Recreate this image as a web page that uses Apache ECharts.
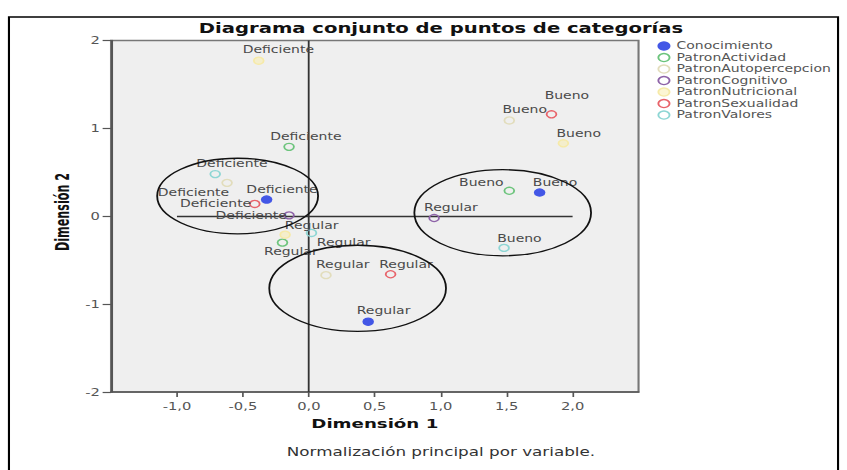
<!DOCTYPE html>
<html>
<head>
<meta charset="utf-8">
<script src="https://cdn.jsdelivr.net/npm/echarts@6/dist/echarts.min.js"></script>
<style>
  html, body { margin: 0; padding: 0; background: #fff; overflow: hidden; width: 847px; height: 470px; }
  /* the source picture is stretched sideways, so draw narrow and stretch */
  #main { width: 605px; height: 470px; transform: scaleX(1.4); transform-origin: 0 0; }
</style>
</head>
<body>
<div id="main"></div>
<script>
// 各变量的类别点 [Dimensión 1, Dimensión 2, categoría]
const conocimiento = [[-0.32, 0.19, 'Deficiente'], [0.45, -1.20, 'Regular'], [1.75, 0.27, 'Bueno']];
const patronActividad = [[-0.15, 0.79, 'Deficiente'], [-0.20, -0.30, 'Regular'], [1.52, 0.29, 'Bueno']];
const patronAutopercepcion = [[-0.62, 0.38, 'Deficiente'], [0.13, -0.67, 'Regular'], [1.52, 1.09, 'Bueno']];
const patronCognitivo = [[-0.15, 0.01, 'Deficiente'], [0.95, -0.02, 'Regular']];
const patronNutricional = [[-0.38, 1.77, 'Deficiente'], [-0.18, -0.21, 'Regular'], [1.93, 0.83, 'Bueno']];
const patronSexualidad = [[-0.41, 0.14, 'Deficiente'], [0.62, -0.66, 'Regular'], [1.84, 1.16, 'Bueno']];
const patronValores = [[-0.71, 0.48, 'Deficiente'], [0.02, -0.19, 'Regular'], [1.48, -0.36, 'Bueno']];

const xTicks = [-1, -0.5, 0, 0.5, 1, 1.5, 2];

// 标签偏移 (px)
const labelOffsets = {
  Conocimiento: [[11, -10], [11, -11], [11, -10]],
  PatronActividad: [[12, -10], [6, 9], [-20, -8]],
  PatronAutopercepcion: [[-24, 10], [12, -10], [11, -11]],
  PatronCognitivo: [[-27, 0], [12, -10]],
  PatronNutricional: [[14, -11], [19, -9], [11, -10]],
  PatronSexualidad: [[-28, 0], [11, -10], [11, -19]],
  PatronValores: [[12, -10], [23, 10], [11, -9]],
};

// 颜色
const styles = {
  Conocimiento: { fill: '#4357e6', stroke: '#4357e6' },
  PatronActividad: { fill: 'rgba(0,0,0,0)', stroke: '#6cc47c' },
  PatronAutopercepcion: { fill: 'rgba(0,0,0,0)', stroke: '#e2ddbc' },
  PatronCognitivo: { fill: 'rgba(0,0,0,0)', stroke: '#8e63a8' },
  PatronNutricional: { fill: 'rgba(250,238,170,0.5)', stroke: '#f6eaa8' },
  PatronSexualidad: { fill: 'rgba(0,0,0,0)', stroke: '#e8636a' },
  PatronValores: { fill: 'rgba(0,0,0,0)', stroke: '#8ed6d4' },
};

// 手绘的椭圆 [cx, cy, rx, ry]（数据坐标）
const circled = [[-0.54, 0.23, 0.61, 0.43], [1.47, 0.04, 0.67, 0.49], [0.37, -0.82, 0.67, 0.49]];

const source = [
  ['Conocimiento', conocimiento],
  ['PatronActividad', patronActividad],
  ['PatronAutopercepcion', patronAutopercepcion],
  ['PatronCognitivo', patronCognitivo],
  ['PatronNutricional', patronNutricional],
  ['PatronSexualidad', patronSexualidad],
  ['PatronValores', patronValores],
];

const FONT = 'DejaVu Sans';
const fmtComma = (v) => v.toFixed(1).replace('.', ',');

const series = source.map(([name, pts], i) => {
  const st = styles[name];
  const s = {
    type: 'scatter',
    name,
    symbol: 'circle',
    symbolSize: 7,
    z: 3,
    itemStyle: { color: st.fill, borderColor: st.stroke, borderWidth: 1.3, opacity: 1 },
    label: {
      show: true,
      position: 'inside',
      formatter: '{b}',
      color: '#4a4a4a',
      fontFamily: FONT,
      fontSize: 10,
    },
    emphasis: { disabled: true },
    data: pts.map((p, j) => ({
      name: p[2],
      value: [p[0], p[1]],
      label: { offset: labelOffsets[name][j] },
    })),
  };
  if (i === 0) {
    s.markLine = {
      silent: true,
      symbol: 'none',
      label: { show: false },
      lineStyle: { color: '#333', width: 1.3, type: 'solid' },
      z: 1,
      data: [
        [{ coord: [-1, 0] }, { coord: [2, 0] }],
        [{ coord: [0, -2] }, { coord: [0, 2] }],
      ],
    };
  }
  return s;
});

const options = {
  animation: false,
  grid: {
    left: 79.3, right: 148.9, top: 40.5, bottom: 78,
    show: true, backgroundColor: '#efefef', borderColor: '#777', borderWidth: 1.5,
    outerBoundsMode: 'none',
  },
  legend: {
    orient: 'vertical',
    left: 469.6,
    top: 40.3,
    padding: 0,
    itemGap: 0,
    itemWidth: 8,
    itemHeight: 8,
    selectedMode: false,
    textStyle: { fontFamily: FONT, fontSize: 10, color: '#555', lineHeight: 11.5 },
    data: source.map(([name]) => ({
      name,
      icon: 'circle',
      itemStyle: { color: styles[name].fill, borderColor: styles[name].stroke, borderWidth: 1.3 },
    })),
  },
  xAxis: {
    type: 'value',
    min: -1.5,
    max: 2.5,
    interval: 0.5,
    name: 'Dimensión 1',
    nameLocation: 'middle',
    nameGap: 25,
    nameTextStyle: { fontFamily: FONT, fontWeight: 'bold', fontSize: 13, color: '#111' },
    axisLine: { show: true, onZero: false, lineStyle: { color: '#555', width: 1.5 } },
    axisTick: { show: true, length: 5, customValues: xTicks, lineStyle: { color: '#555', width: 1.2 } },
    axisLabel: { customValues: xTicks, margin: 9, color: '#555', fontFamily: FONT, fontSize: 10.5, formatter: fmtComma },
    splitLine: { show: false },
  },
  yAxis: {
    type: 'value',
    min: -2,
    max: 2,
    interval: 1,
    axisLine: { show: true, onZero: false, lineStyle: { color: '#555', width: 1.5 } },
    axisTick: { show: true, length: 6, lineStyle: { color: '#555', width: 1.2 } },
    axisLabel: { margin: 8, color: '#555', fontFamily: FONT, fontSize: 10.5 },
    splitLine: { show: false },
  },
  series,
};

const chart = echarts.init(document.getElementById('main'), null, { renderer: 'svg' });
chart.setOption(options);

// 椭圆和文字
const toPx = (x, y) => chart.convertToPixel({ gridIndex: 0 }, [x, y]);
const ellipses = circled.map(([cx, cy, rx, ry]) => {
  const c = toPx(cx, cy);
  const e = toPx(cx + rx, cy - ry);
  return {
    type: 'ellipse',
    z: 100,
    silent: true,
    shape: { cx: c[0], cy: c[1], rx: e[0] - c[0], ry: e[1] - c[1] },
    style: { fill: 'none', stroke: '#111', lineWidth: 1.3 },
  };
});

chart.setOption({
  graphic: {
    elements: [
      {
        type: 'rect',
        silent: true,
        shape: { x: 6.4, y: 17, width: 592.2, height: 460 },
        style: { fill: 'none', stroke: '#000', lineWidth: 1.5 },
      },
      {
        type: 'text',
        silent: true,
        style: {
          text: 'Diagrama conjunto de puntos de categorías',
          x: 315, y: 28, align: 'center', verticalAlign: 'middle',
          font: 'bold 14px "DejaVu Sans"', fill: '#111',
        },
      },
      {
        // y axis title, condensed like the source
        type: 'text',
        silent: true,
        x: 44.5,
        y: 212,
        rotation: Math.PI / 2,
        scaleX: 0.8,
        style: {
          text: 'Dimensión 2',
          x: 0, y: 0, align: 'center', verticalAlign: 'middle',
          font: 'bold 14px "DejaVu Sans"', fill: '#111',
        },
      },
      {
        type: 'text',
        silent: true,
        style: {
          text: 'Normalización principal por variable.',
          x: 315, y: 451, align: 'center', verticalAlign: 'middle',
          font: '12px "DejaVu Sans"', fill: '#333',
        },
      },
      ...ellipses,
    ],
  },
});
</script>
</body>
</html>
